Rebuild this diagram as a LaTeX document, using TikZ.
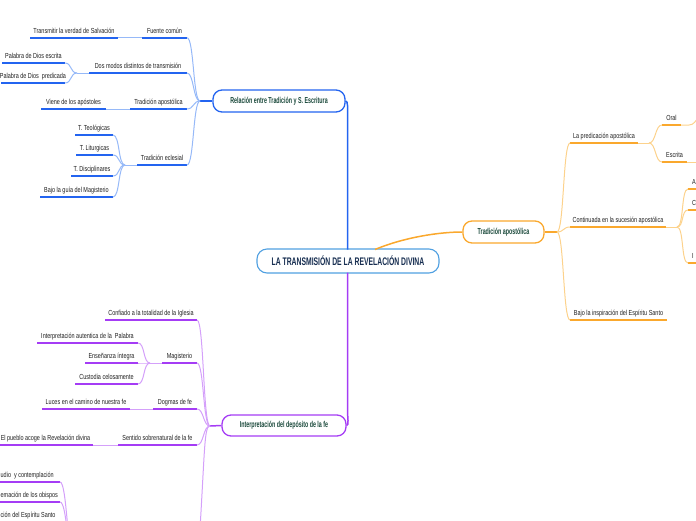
\documentclass[tikz,border=0pt]{standalone}
\usepackage{fontspec}
\setmainfont{Liberation Sans}[FakeStretch=0.75]
\newfontfamily\hfont{Liberation Sans}[FakeStretch=0.62]
\definecolor{cblue}{RGB}{35,100,240}
\definecolor{lblue}{RGB}{150,185,248}
\definecolor{corange}{RGB}{250,168,45}
\definecolor{lorange}{RGB}{252,210,140}
\definecolor{cpurple}{RGB}{165,60,245}
\definecolor{lpurple}{RGB}{212,160,250}
\definecolor{cmain}{RGB}{80,160,225}
\definecolor{tnavy}{RGB}{22,45,80}
\definecolor{tgreen}{RGB}{25,72,58}
\definecolor{tgray}{RGB}{30,30,30}
\tikzset{
  ctext/.style={font=\fontsize{7.3}{9}\selectfont, text=tgray, inner sep=0pt, anchor=base},
  uline/.style={line width=2pt},
  lconn/.style={line width=1pt},
  mconn/.style={line width=1.5pt},
  topic/.style={draw, rounded corners=9pt, line width=1.3pt, fill=white, inner sep=0pt,
    minimum height=22pt, font=\hfont\bfseries\fontsize{8.6}{10}\selectfont, text=tgreen},
}
\newcommand\mmsub[6]{%
  \coordinate (#1L) at (#2,#4);
  \coordinate (#1R) at (#3,#4);
  \node[ctext] (#1) at ({(#2+#3)/2},{#4-4.5}) {#6};
  \draw[uline,#5] (#1L) -- (#1R);
}
\newcommand\mmcurve[3]{\draw[lconn,#3] (#1) .. controls +(7,0) and +(-7,0) .. (#2);}
\begin{document}
\begin{tikzpicture}[x=1pt,y=-1pt]
\useasboundingbox (0,0) rectangle (696,520);

% ---------- central ----------
\node[draw=cmain, rounded corners=10pt, line width=1.1pt, fill=white, minimum width=182pt,
  minimum height=24pt, inner sep=0pt, text=tnavy,
  font=\hfont\bfseries\fontsize{11}{12}\selectfont] (main) at (348,261)
  {LA TRANSMISIÓN DE LA REVELACIÓN DIVINA};

% ---------- blue branch ----------
\node[topic, draw=cblue, minimum width=132pt] (rel) at (279,101)
  {Relación entre Tradición y S. Escritura};
\coordinate (mT) at (347.5,249.5);
\coordinate (bv) at (347.5,116);
\draw[mconn,cblue] (rel.east) .. controls +(2.5,0) and +(0,-8) .. (bv) -- (mT);
\coordinate (jB) at (200,101);
\draw[mconn,cblue] (rel.west) -- (jB);

\mmsub{fc}{142}{187}{37.7}{cblue}{Fuente común}
\mmsub{tv}{30}{118}{37.7}{cblue}{Transmitir la verdad de Salvación}
\draw[lconn,lblue] (tvR) -- (fcL);
\mmsub{dm}{89}{187}{73}{cblue}{Dos modos distintos de transmisión}
\coordinate (jdm) at (77,73);
\draw[lconn,lblue] (jdm) -- (dmL);
\mmsub{pe}{2}{65}{63}{cblue}{Palabra de Dios escrita}
\mmsub{pp}{1}{65}{83}{cblue}{Palabra de Dios\ \ predicada}
\mmcurve{peR}{jdm}{lblue}
\mmcurve{ppR}{jdm}{lblue}
\mmsub{ta}{130}{187}{109}{cblue}{Tradición apostólica}
\mmsub{va}{41}{106}{109}{cblue}{Viene de los apóstoles}
\draw[lconn,lblue] (vaR) -- (taL);
\mmsub{te}{137}{187}{165}{cblue}{Tradición eclesial}
\coordinate (jte) at (125,165);
\draw[lconn,lblue] (jte) -- (teL);
\mmsub{tt}{75}{113}{135}{cblue}{T. Teológicas}
\mmsub{tl}{76}{113}{155}{cblue}{T. Liturgicas}
\mmsub{td}{71}{113}{176}{cblue}{T. Disciplinares}
\mmsub{bg}{40}{113}{197}{cblue}{Bajo la guía del Magisterio}
\mmcurve{ttR}{jte}{lblue}
\mmcurve{tlR}{jte}{lblue}
\mmcurve{tdR}{jte}{lblue}
\mmcurve{bgR}{jte}{lblue}
\mmcurve{fcR}{jB}{lblue}
\mmcurve{dmR}{jB}{lblue}
\mmcurve{taR}{jB}{lblue}
\mmcurve{teR}{jB}{lblue}

% ---------- orange branch ----------
\node[topic, draw=corange, minimum width=81pt] (trad) at (503.5,232) {Tradición apostólica};
\coordinate (oS) at (375,249.5);
\draw[mconn,corange] (oS) .. controls (405,237) and (440,232) .. (trad.west);
\coordinate (jO) at (557,232);
\draw[mconn,corange] (trad.east) -- (jO);
\mmsub{lp}{570}{638}{143}{corange}{La predicación apostólica}
\coordinate (jlp) at (649,143);
\draw[lconn,lorange] (lpR) -- (jlp);
\mmsub{or}{662}{681}{125}{corange}{Oral}
\mmsub{es}{662}{687}{162}{corange}{Escrita}
\mmcurve{jlp}{orL}{lorange}
\mmcurve{jlp}{esL}{lorange}
\coordinate (orX) at (700,116);
\coordinate (esX) at (700,162);
\draw[lconn,lorange] (orR) -- (689,125) .. controls (694,125) and (695,121) .. (orX);
\draw[lconn,lorange] (esR) -- (esX);
\mmsub{ca}{570}{666}{227}{corange}{Continuada en la sucesión apostólica}
\coordinate (jca) at (677,227);
\draw[lconn,lorange] (caR) -- (jca);
\coordinate (aL) at (688,189); \coordinate (aR) at (720,189);
\coordinate (cL) at (688,210); \coordinate (cR) at (720,210);
\coordinate (iL) at (688,263); \coordinate (iR) at (720,263);
\node[ctext, anchor=base west] (an) at (692,184.5) {A};
\node[ctext, anchor=base west] (cn) at (692,205.5) {C};
\node[ctext, anchor=base west] (in) at (692,258.5) {I};
\draw[uline,corange] (aL) -- (aR);
\draw[uline,corange] (cL) -- (cR);
\draw[uline,corange] (iL) -- (iR);
\mmcurve{jca}{aL}{lorange}
\mmcurve{jca}{cL}{lorange}
\mmcurve{jca}{iL}{lorange}
\mmsub{bi}{570}{667}{320}{corange}{Bajo la inspiración del Espíritu Santo}
\mmcurve{jO}{lpL}{lorange}
\mmcurve{jO}{caL}{lorange}
\mmcurve{jO}{biL}{lorange}

% ---------- purple branch ----------
\node[topic, draw=cpurple, minimum width=124pt, minimum height=21pt] (interp) at (284,425.5)
  {Interpretación del depósito de la fe};
\coordinate (mB) at (347.5,272.5);
\coordinate (pv) at (347.5,410);
\draw[mconn,cpurple] (mB) -- (pv) .. controls +(0,8) and +(2.5,0) .. (interp.east);
\coordinate (jP) at (210,426);
\draw[mconn,cpurple] (interp.west) -- (jP);
\mmsub{cf}{105}{197}{320}{cpurple}{Confiado a la totalidad de la Iglesia}
\mmsub{mg}{162}{197}{363}{cpurple}{Magisterio}
\coordinate (jmg) at (150,363);
\draw[lconn,lpurple] (jmg) -- (mgL);
\mmsub{ia}{37}{138}{343}{cpurple}{Interpretación autentica de la\ \ Palabra}
\mmsub{ei}{85}{138}{363}{cpurple}{Enseñanza íntegra}
\mmsub{cc}{75}{138}{384}{cpurple}{Custodia celosamente}
\mmcurve{iaR}{jmg}{lpurple}
\mmcurve{eiR}{jmg}{lpurple}
\mmcurve{ccR}{jmg}{lpurple}
\mmsub{df}{153}{197}{409}{cpurple}{Dogmas de fe}
\mmsub{lc}{42}{130}{409}{cpurple}{Luces en el camino de nuestra fe}
\draw[lconn,lpurple] (lcR) -- (dfL);
\mmsub{sf}{118}{197}{445}{cpurple}{Sentido sobrenatural de la fe}
\mmsub{ep}{-2}{93}{445}{cpurple}{El pueblo acoge la Revelación divina}
\draw[lconn,lpurple] (epR) -- (sfL);
\mmcurve{cfR}{jP}{lpurple}
\mmcurve{mgR}{jP}{lpurple}
\mmcurve{dfR}{jP}{lpurple}
\mmcurve{sfR}{jP}{lpurple}
\coordinate (pD) at (199,545);
\draw[lconn,lpurple] (jP) .. controls (204,426) and (205,450) .. (pD);

% bottom-left group
\coordinate (ecL) at (-10,482); \coordinate (ecR) at (60,482);
\coordinate (prL) at (-10,502); \coordinate (prR) at (60,502);
\coordinate (isL) at (-10,522); \coordinate (isR) at (61,522);
\node[ctext, anchor=base west] (ec) at (0.5,477.5) {udio\ \ y contemplación};
\node[ctext, anchor=base west] (pr) at (0.5,497.5) {emación de los obispos};
\node[ctext, anchor=base west] (is) at (0.5,517) {ción del Espíritu Santo};
\draw[uline,cpurple] (ecL) -- (ecR);
\draw[uline,cpurple] (prL) -- (prR);
\draw[uline,cpurple] (isL) -- (isR);
\coordinate (jbot) at (74,555);
\mmcurve{ecR}{jbot}{lpurple}
\mmcurve{prR}{jbot}{lpurple}
\mmcurve{isR}{jbot}{lpurple}
\end{tikzpicture}
\end{document}
